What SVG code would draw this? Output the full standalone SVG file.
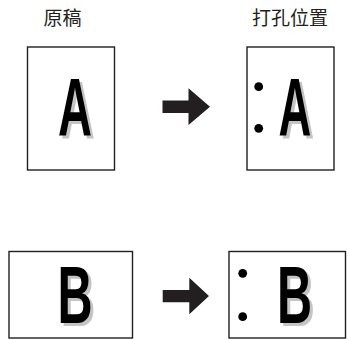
<svg xmlns="http://www.w3.org/2000/svg" width="349" height="340" viewBox="0 0 349 340">
<style>
.title{font-family:"Noto Sans CJK SC","Noto Sans CJK JP",sans-serif;font-size:19px;fill:#231f20;text-anchor:middle}
.page{fill:#fff;stroke:#231f20;stroke-width:1.4}
.let{font-family:"Liberation Sans",Arial,sans-serif;font-weight:bold;font-size:81px;text-anchor:middle}
.sh{fill:#c4c4c4}
.fg{fill:#000}
.hole{fill:#000}
.arrow{fill:#231f20}
</style>
<rect width="349" height="340" fill="#fff"/>
<g id="titles">
<text class="title" x="62.5" y="25">原稿</text>
<text class="title" x="290" y="25">打孔位置</text>
</g>
<g id="original-a">
<rect class="page" x="27.5" y="47" width="87" height="123"/>
<text class="let sh" transform="translate(78,138) scale(0.58,1)">A</text>
<text class="let fg" transform="translate(75,135) scale(0.58,1)">A</text>
</g>
<g id="punched-a">
<rect class="page" x="247" y="47" width="87" height="123"/>
<circle class="hole" cx="258.7" cy="86.7" r="4.4"/>
<circle class="hole" cx="258.7" cy="128.3" r="4.4"/>
<text class="let sh" transform="translate(298,138) scale(0.56,1)">A</text>
<text class="let fg" transform="translate(295,135) scale(0.56,1)">A</text>
</g>
<g id="original-b">
<rect class="page" x="9" y="251.5" width="123.5" height="86.5"/>
<text class="let sh" transform="translate(78,326) scale(0.6,1)">B</text>
<text class="let fg" transform="translate(75,323) scale(0.6,1)">B</text>
</g>
<g id="punched-b">
<rect class="page" x="229" y="251.5" width="116.5" height="86.5"/>
<circle class="hole" cx="242.7" cy="273.3" r="4.4"/>
<circle class="hole" cx="242.7" cy="316.7" r="4.4"/>
<text class="let sh" transform="translate(297.5,326) scale(0.6,1)">B</text>
<text class="let fg" transform="translate(294.5,323) scale(0.6,1)">B</text>
</g>
<g id="connectors">
<polygon class="arrow" points="162.5,100.5 188.5,100.5 188.5,88.3 210,106.7 188.5,125 188.5,113 162.5,113"/>
<polygon class="arrow" points="162.7,290 189.3,290 189.3,277.7 209,296 189.3,314.3 189.3,302.3 162.7,302.3"/>
</g>
</svg>
